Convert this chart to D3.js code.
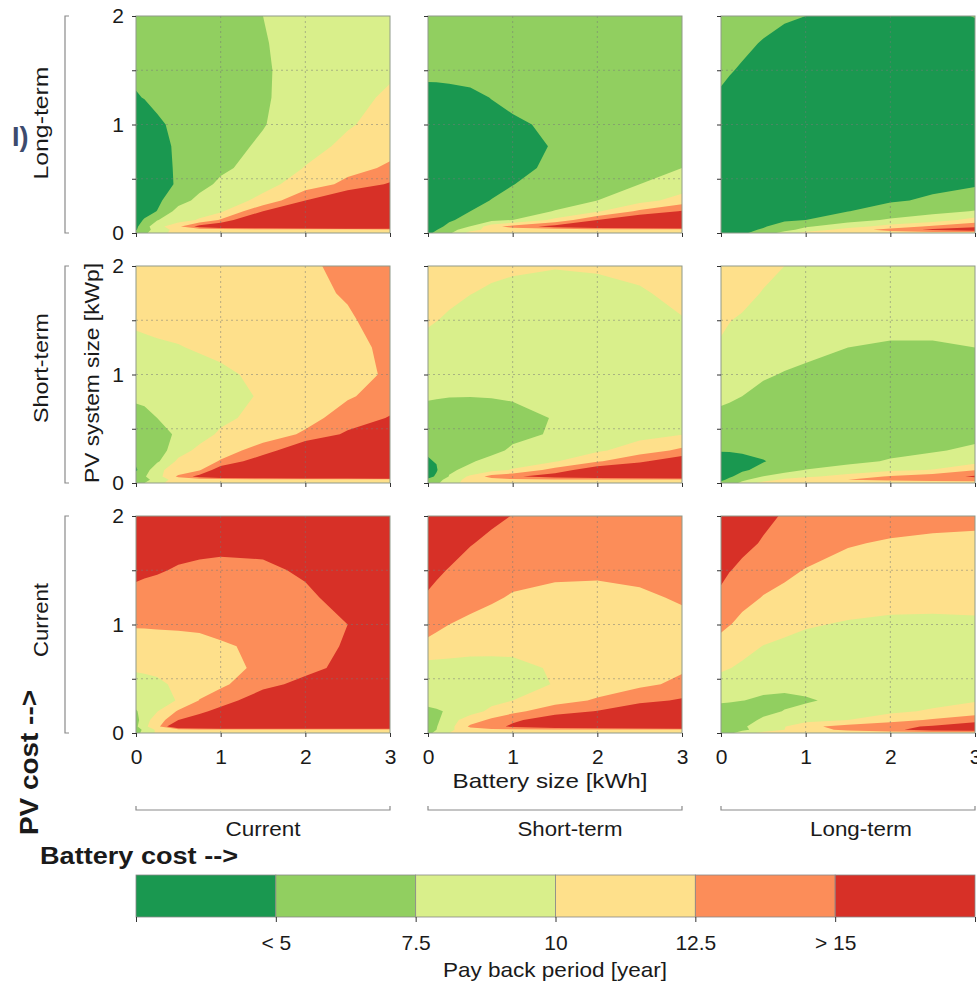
<!DOCTYPE html>
<html>
<head>
<meta charset="utf-8">
<script src="https://cdn.jsdelivr.net/npm/d3@7"></script>
<style>
  body { margin: 0; background: #fff; }
  text { font-family: "Liberation Sans", Arial, Helvetica, sans-serif; fill: #1a1a1a; }
</style>
</head>
<body>
<svg id="chart" width="977" height="983"></svg>
<script>
// grid of the pay back model: battery size [kWh] along x, PV size [kWp] along y
const batterySize = [0, 0.1, 0.25, 0.5, 0.75, 1, 1.5, 2, 2.5, 3];
const pvSize = [0, 0.03, 0.06, 0.12, 0.2, 0.3, 0.45, 0.6, 0.8, 1.0, 1.25, 1.5, 1.75, 2.0];

const costLevels = ["Current", "Short-term", "Long-term"];
const paybackBreaks = [5, 7.5, 10, 12.5, 15];
const bandColors = ["#1a9850", "#91cf60", "#d9ef8b", "#fee08b", "#fc8d59", "#d73027"];
const legendTicks = [2.5, 5, 7.5, 10, 12.5, 15, 17.5];
const legendTickLabels = ["", "< 5", "7.5", "10", "12.5", "> 15", ""];

// pay back period [year], one row per PV size (bottom to top)
const pvLong_batCurrent = [
  [6, 7, 9, 11, 11, 11, 11, 11, 11, 11],
  [4.8, 6.5, 8.5, 11, 11, 11, 11, 11, 11, 11],
  [4.5, 6.5, 9, 12, 16, 18, 20, 22, 24, 25],
  [4.2, 5.2, 7.4, 8.8, 10.3, 12.8, 20, 22, 23, 24],
  [3.8, 4.2, 5.05, 8.4, 8.8, 9.6, 15, 19, 21, 22],
  [3.5, 3.8, 4.5, 6.6, 8.1, 8.8, 10.6, 15, 18, 20],
  [3.3, 3.5, 4.0, 5.3, 6.8, 7.9, 9.3, 11.0, 13.2, 15.3],
  [3.2, 3.4, 3.9, 5.4, 6.2, 7.1, 8.4, 10.1, 11.6, 12.9],
  [3.2, 3.4, 4.0, 5.5, 6.2, 6.8, 7.8, 9.2, 10.5, 11.6],
  [3.4, 3.7, 4.6, 5.6, 6.1, 6.6, 7.4, 8.6, 9.8, 10.8],
  [4.8, 5.1, 5.6, 6.0, 6.3, 6.6, 7.3, 8.3, 9.4, 10.3],
  [5.6, 5.8, 6.0, 6.3, 6.5, 6.8, 7.3, 8.2, 9.0, 9.7],
  [6.0, 6.1, 6.3, 6.5, 6.7, 6.9, 7.4, 8.1, 8.8, 9.4],
  [6.3, 6.4, 6.5, 6.7, 6.9, 7.1, 7.5, 8.1, 8.7, 9.2]
];
const pvLong_batShort = [
  [4.5, 5.5, 7, 11, 11, 11, 11, 11, 11, 11],
  [4.2, 4.9, 6.5, 9, 11, 11, 11, 11, 11, 11],
  [3.8, 4.3, 5.6, 7.6, 11.5, 13.5, 16, 19, 20, 21],
  [3.5, 3.8, 4.7, 5.8, 6.8, 7.5, 10.6, 15, 18, 19],
  [3.3, 3.5, 4.1, 5.0, 5.7, 6.3, 7.6, 9.7, 13, 15.2],
  [3.2, 3.4, 3.8, 4.5, 5.05, 5.6, 6.6, 7.5, 9.1, 11.0],
  [3.1, 3.2, 3.5, 4.0, 4.5, 4.95, 5.9, 6.7, 7.5, 8.6],
  [3.1, 3.2, 3.4, 3.8, 4.2, 4.6, 5.3, 6.2, 6.9, 7.5],
  [3.1, 3.2, 3.4, 3.7, 4.1, 4.5, 5.1, 6.0, 6.6, 7.1],
  [3.3, 3.4, 3.6, 4.0, 4.4, 4.75, 5.3, 6.0, 6.5, 6.9],
  [4.2, 4.25, 4.4, 4.6, 5.05, 5.4, 5.8, 6.2, 6.6, 7.0],
  [5.6, 5.6, 5.6, 5.7, 5.9, 6.0, 6.3, 6.6, 6.9, 7.1],
  [5.9, 6.0, 6.0, 6.1, 6.2, 6.3, 6.5, 6.7, 6.9, 7.1],
  [6.2, 6.2, 6.3, 6.3, 6.4, 6.5, 6.7, 6.8, 7.0, 7.2]
];
const pvLong_batLong = [
  [4.5, 4.5, 4.6, 6.0, 8.5, 11, 11, 11, 11, 11],
  [4.3, 4.3, 4.5, 5.2, 6.5, 8.5, 11, 13.5, 15.5, 16.5],
  [4.1, 4.1, 4.3, 4.8, 6.0, 7.2, 9.0, 11.0, 13.0, 14.6],
  [4.0, 4.0, 4.1, 4.4, 4.7, 5.0, 6.6, 7.8, 8.6, 11.0],
  [3.9, 3.9, 4.0, 4.2, 4.4, 4.6, 4.95, 6.0, 6.9, 7.6],
  [3.9, 3.9, 3.9, 4.0, 4.1, 4.2, 4.4, 4.75, 5.3, 6.0],
  [3.9, 3.9, 3.9, 3.9, 3.9, 4.0, 4.1, 4.3, 4.5, 4.8],
  [3.9, 3.9, 3.8, 3.8, 3.8, 3.8, 3.9, 4.0, 4.1, 4.3],
  [4.0, 3.9, 3.8, 3.7, 3.7, 3.7, 3.8, 3.9, 4.0, 4.1],
  [4.3, 4.1, 3.9, 3.8, 3.7, 3.7, 3.7, 3.8, 3.9, 4.0],
  [4.8, 4.6, 4.3, 4.0, 3.8, 3.8, 3.7, 3.8, 3.9, 4.0],
  [5.3, 5.1, 4.85, 4.4, 4.1, 3.95, 3.8, 3.8, 3.9, 4.1],
  [5.8, 5.6, 5.3, 4.9, 4.5, 4.2, 4.0, 3.9, 4.1, 4.4],
  [6.2, 6.0, 5.8, 5.5, 5.2, 5.0, 4.5, 4.3, 4.6, 5.05]
];
const pvShort_batCurrent = [
  [6.5, 7.5, 9.5, 11, 11, 11, 11, 11, 11, 11],
  [5.5, 6.5, 8.8, 11, 11, 11, 11, 11, 11, 11],
  [5.8, 7.3, 9.0, 13, 16, 18, 20, 21, 22, 23],
  [4.8, 6.0, 9.6, 10.8, 12.2, 17, 18, 20, 21, 22],
  [5.3, 5.8, 7.1, 10.5, 11.3, 12.7, 17, 19, 20, 21],
  [5.3, 5.5, 6.2, 9.0, 10.6, 11.5, 13.5, 18, 19.5, 20],
  [5.6, 5.8, 6.3, 8.0, 9.0, 10.4, 11.4, 12.8, 15.5, 18],
  [6.5, 6.8, 7.5, 8.4, 8.9, 9.4, 10.9, 11.8, 13.4, 15.2],
  [8.0, 8.1, 8.3, 8.6, 9.0, 9.3, 10.2, 11.2, 12.3, 13.3],
  [8.3, 8.4, 8.6, 8.9, 9.3, 9.6, 10.5, 11.2, 12.0, 12.7],
  [9.5, 9.6, 9.75, 9.9, 10.2, 10.5, 11.0, 11.5, 12.1, 12.8],
  [10.3, 10.4, 10.5, 10.7, 10.9, 11.1, 11.5, 12.0, 12.3, 13.2],
  [10.8, 10.9, 11.0, 11.2, 11.4, 11.6, 12.0, 12.1, 12.65, 13.6],
  [11.1, 11.2, 11.3, 11.5, 11.7, 11.9, 12.2, 12.3, 12.8, 13.5]
];
const pvShort_batShort = [
  [6, 7, 9, 11, 11, 11, 11, 11, 11, 11],
  [5.5, 6.5, 8.5, 11, 11.5, 12, 12, 12, 12, 12],
  [4.3, 5.3, 7.6, 10.5, 13.5, 14.5, 16.5, 18, 19, 20],
  [4.2, 4.8, 7.2, 8.0, 9.2, 10.2, 13.5, 17, 18.5, 19.5],
  [4.85, 5.1, 5.8, 7.3, 8.1, 8.7, 9.8, 12.2, 14.5, 17],
  [5.2, 5.3, 5.6, 6.3, 7.0, 7.8, 8.6, 9.6, 11.3, 13.0],
  [5.3, 5.3, 5.5, 6.0, 6.5, 7.0, 7.7, 8.5, 9.2, 9.9],
  [5.6, 5.6, 5.8, 6.2, 6.5, 6.9, 7.6, 8.3, 8.9, 9.4],
  [8.0, 7.8, 7.6, 7.55, 7.6, 7.7, 8.0, 8.4, 8.8, 9.2],
  [8.6, 8.4, 8.2, 8.0, 8.0, 8.0, 8.2, 8.5, 8.9, 9.3],
  [9.2, 9.0, 8.8, 8.5, 8.4, 8.3, 8.4, 8.6, 9.0, 9.4],
  [10.3, 10.05, 9.7, 9.2, 9.0, 8.8, 8.8, 9.0, 9.4, 9.9],
  [11.0, 10.8, 10.5, 10.05, 9.7, 9.5, 9.3, 9.5, 9.8, 10.5],
  [11.5, 11.3, 11.1, 10.8, 10.5, 10.3, 10.1, 10.2, 10.5, 11.0]
];
const pvShort_batLong = [
  [5.5, 6.5, 8, 11, 11, 11, 11, 11, 11, 11],
  [4.5, 5.5, 7.0, 8.8, 10.5, 11.5, 12.5, 13, 13.5, 14],
  [4.2, 4.7, 5.8, 7.6, 8.8, 9.5, 11.0, 12.8, 14, 15.3],
  [4.0, 4.2, 4.7, 5.6, 6.6, 7.6, 8.5, 9.5, 10.1, 12.4],
  [3.8, 3.9, 4.3, 4.9, 5.6, 6.1, 6.9, 7.7, 8.3, 9.0],
  [5.15, 5.2, 5.3, 5.5, 5.8, 6.0, 6.4, 6.9, 7.3, 7.9],
  [5.6, 5.6, 5.6, 5.6, 5.7, 5.8, 6.0, 6.2, 6.5, 6.9],
  [6.9, 6.8, 6.6, 6.2, 6.0, 6.0, 6.0, 6.1, 6.3, 6.6],
  [8.0, 7.8, 7.5, 7.0, 6.7, 6.5, 6.3, 6.3, 6.4, 6.6],
  [8.5, 8.3, 8.1, 7.7, 7.4, 7.2, 6.9, 6.8, 6.8, 6.9],
  [9.8, 9.55, 9.0, 8.5, 8.2, 7.9, 7.5, 7.3, 7.3, 7.5],
  [10.3, 10.05, 9.8, 9.3, 9.0, 8.7, 8.3, 8.1, 8.1, 8.2],
  [11.0, 10.8, 10.5, 9.9, 9.5, 9.2, 8.8, 8.6, 8.6, 8.7],
  [11.5, 11.3, 11.0, 10.5, 10.0, 9.7, 9.3, 9.1, 9.1, 9.2]
];
const pvCurrent_batCurrent = [
  [7, 8, 10.5, 11, 11, 11, 11, 11, 11, 11],
  [6.5, 8, 10.5, 11.5, 12, 12, 12, 12, 12, 12],
  [7.0, 9.5, 11.5, 19, 20, 21, 21, 22, 22, 22],
  [6.5, 9.2, 11.0, 15, 16.5, 18, 20, 21, 21, 22],
  [7.3, 8.4, 9.9, 12.8, 14.3, 16, 18, 20, 21, 22],
  [8.5, 8.8, 9.4, 10.1, 12.6, 13.6, 17, 19, 21, 22],
  [9.2, 9.3, 9.6, 10.4, 11.2, 12.1, 14.0, 16, 19, 21],
  [10.3, 10.4, 10.5, 10.8, 11.2, 11.7, 13.0, 14.0, 16, 19],
  [10.6, 10.7, 10.8, 11.0, 11.4, 12.2, 13.0, 13.8, 15.3, 18],
  [12.9, 12.9, 13.0, 13.1, 13.2, 13.3, 13.6, 14.1, 15.0, 17],
  [14.2, 14.1, 14.0, 13.9, 13.9, 13.9, 14.1, 14.6, 15.8, 17.5],
  [15.6, 15.4, 15.2, 14.8, 14.6, 14.5, 14.6, 15.3, 16.5, 18],
  [16.5, 16.3, 16.1, 15.8, 15.6, 15.5, 15.6, 16.1, 17, 18.5],
  [17, 17, 17, 16.8, 16.6, 16.5, 16.6, 17, 17.8, 19]
];
const pvCurrent_batShort = [
  [7, 8, 10, 11, 11, 11, 11, 11, 11, 11],
  [6.5, 7.5, 9.5, 11.5, 12, 12, 12, 12, 12, 12],
  [6.5, 7.4, 9.0, 13.0, 14.0, 15.5, 18, 19, 20, 21],
  [6.3, 7.0, 9.0, 11.2, 13.0, 14.5, 16.5, 18.5, 19.5, 20],
  [6.8, 7.2, 7.8, 9.1, 10.5, 11.8, 14.0, 15.1, 17, 18],
  [8.5, 8.5, 8.6, 8.9, 9.4, 10.0, 11.5, 12.8, 14.3, 15.3],
  [8.6, 8.6, 8.6, 8.7, 8.9, 9.2, 10.1, 11.1, 12.0, 13.0],
  [9.0, 9.0, 9.0, 9.1, 9.3, 9.5, 10.2, 10.9, 11.5, 12.2],
  [11.8, 11.6, 11.3, 10.8, 10.6, 10.5, 10.7, 11.0, 11.5, 12.0],
  [13.5, 13.0, 12.5, 12.0, 11.6, 11.4, 11.2, 11.3, 11.6, 12.0],
  [14.8, 14.5, 14.0, 13.3, 12.8, 12.3, 12.0, 12.0, 12.2, 12.7],
  [15.6, 15.3, 14.9, 14.3, 13.8, 13.3, 12.9, 12.8, 13.0, 13.4],
  [16.5, 16.2, 15.8, 15.1, 14.6, 14.1, 13.6, 13.4, 13.5, 13.8],
  [17.5, 17.2, 16.8, 16.0, 15.4, 14.95, 14.3, 14.0, 14.0, 14.2]
];
const pvCurrent_batLong = [
  [6.5, 7, 8.5, 11, 11, 11, 11, 11, 11, 11],
  [6.0, 6.3, 7.0, 8.5, 10.0, 11.5, 13.0, 14.5, 16, 17],
  [5.8, 6.2, 7.2, 8.5, 9.9, 11.8, 13.5, 14.3, 15.3, 17],
  [5.5, 5.7, 6.5, 7.9, 8.5, 9.0, 10.0, 11.5, 12.8, 14.0],
  [5.4, 5.5, 5.9, 6.8, 7.6, 8.0, 8.7, 9.5, 10.3, 11.3],
  [8.2, 8.0, 7.55, 7.1, 7.0, 7.3, 8.0, 8.6, 9.2, 9.8],
  [9.2, 9.0, 8.7, 8.3, 8.1, 8.1, 8.3, 8.6, 8.9, 9.2],
  [10.3, 10.05, 9.7, 9.1, 8.8, 8.7, 8.6, 8.8, 9.0, 9.2],
  [11.2, 11.0, 10.6, 9.95, 9.6, 9.3, 9.1, 9.0, 9.1, 9.3],
  [13.3, 12.6, 11.9, 11.1, 10.6, 10.2, 9.8, 9.6, 9.6, 9.7],
  [14.6, 13.8, 13.2, 12.4, 11.9, 11.5, 11.0, 10.7, 10.6, 10.6],
  [15.5, 15.1, 14.5, 13.6, 13.0, 12.4, 11.8, 11.4, 11.2, 11.1],
  [16.3, 16.0, 15.6, 14.8, 14.1, 13.6, 12.65, 12.3, 12.1, 12.0],
  [17.0, 16.8, 16.3, 15.5, 14.8, 14.3, 13.8, 13.4, 13.2, 13.1]
];

// panel table: rows = PV cost (top: long-term), columns = battery cost
const panels = [
  { row: 0, col: 0, grid: pvLong_batCurrent },
  { row: 0, col: 1, grid: pvLong_batShort },
  { row: 0, col: 2, grid: pvLong_batLong },
  { row: 1, col: 0, grid: pvShort_batCurrent },
  { row: 1, col: 1, grid: pvShort_batShort },
  { row: 1, col: 2, grid: pvShort_batLong },
  { row: 2, col: 0, grid: pvCurrent_batCurrent },
  { row: 2, col: 1, grid: pvCurrent_batShort },
  { row: 2, col: 2, grid: pvCurrent_batLong }
];
const pvRowLabels = [costLevels[2], costLevels[1], costLevels[0]];

const svg = d3.select("#chart");
const colX = [136, 428, 721], rowY = [16, 266, 516];
const pw = 254, ph = 217;

const x = d3.scaleLinear().domain([0, 3]).range([0, pw]);
const y = d3.scaleLinear().domain([0, 2]).range([ph, 0]);
const color = d3.scaleThreshold().domain(paybackBreaks).range(bandColors);

// contour grid index -> data value (uneven grid spacing)
const nx = batterySize.length, ny = pvSize.length;
const gx = d3.scaleLinear().domain(d3.range(nx)).range(batterySize);
const gy = d3.scaleLinear().domain(d3.range(ny)).range(pvSize);
const toIndex = (v, n) => Math.max(0, Math.min(n - 1, v - 0.5));
const path = d3.geoPath(d3.geoTransform({
  point(px, py) {
    this.stream.point(x(gx(toIndex(px, nx))), y(gy(toIndex(py, ny))));
  }
}));
const contours = d3.contours().size([nx, ny]).thresholds(paybackBreaks);

const styleAxis = g => {
  g.select(".domain").remove();
  g.selectAll("line").attr("stroke", "#333");
  g.selectAll("text").attr("font-size", 21).attr("font-family", null).attr("fill", "#1a1a1a");
};

panels.forEach(p => {
  const g = svg.append("g").attr("transform", `translate(${colX[p.col]},${rowY[p.row]})`);

  g.append("rect").attr("width", pw).attr("height", ph).attr("fill", bandColors[0]);
  g.append("g").selectAll("path")
    .data(contours(p.grid.flat()))
    .join("path")
    .attr("fill", d => color(d.value))
    .attr("d", path);

  // dotted grid
  const grid = g.append("g").attr("stroke", "#777").attr("stroke-opacity", 0.5)
    .attr("stroke-dasharray", "2,3").attr("stroke-width", 1);
  grid.selectAll(".vx").data([1, 2]).join("line")
    .attr("x1", d => x(d)).attr("x2", d => x(d)).attr("y1", 0).attr("y2", ph);
  grid.selectAll(".hy").data([0.5, 1, 1.5]).join("line")
    .attr("y1", d => y(d)).attr("y2", d => y(d)).attr("x1", 0).attr("x2", pw);

  g.append("rect").attr("width", pw).attr("height", ph)
    .attr("fill", "none").attr("stroke", "#8f9a8a").attr("stroke-width", 1);

  g.append("g")
    .call(d3.axisLeft(y).tickValues([0, 0.5, 1, 1.5, 2]).tickSize(4).tickPadding(8)
      .tickFormat(d => p.col === 0 && Number.isInteger(d) ? d : ""))
    .call(styleAxis);

  g.append("g").attr("transform", `translate(0,${ph})`)
    .call(d3.axisBottom(x).tickValues([0, 1, 2, 3]).tickSize(4).tickPadding(12)
      .tickFormat(d => p.row === 2 ? d : ""))
    .call(styleAxis);
});

// left brackets and PV-cost row labels
const rowLabelY = [123, 368, 620];
const rowLabelLen = [113, 110, 74];
rowY.forEach((top, i) => {
  svg.append("path")
    .attr("d", `M69,${top}H65V${top + ph}H69`)
    .attr("fill", "none").attr("stroke", "#8a8a8a").attr("stroke-width", 1.2);
  svg.append("text")
    .attr("transform", `translate(48,${rowLabelY[i]}) rotate(-90)`)
    .attr("text-anchor", "middle").attr("font-size", 21)
    .attr("textLength", rowLabelLen[i]).attr("lengthAdjust", "spacingAndGlyphs")
    .text(pvRowLabels[i]);
});

svg.append("text")
  .attr("transform", "translate(99,373) rotate(-90)")
  .attr("text-anchor", "middle").attr("font-size", 21)
  .attr("textLength", 220).attr("lengthAdjust", "spacingAndGlyphs")
  .text("PV system size [kWp]");

// bottom brackets and battery-cost column labels
const colLabelX = [263, 570, 861];
const colLabelLen = [75, 105, 102];
colX.forEach((left, i) => {
  svg.append("path")
    .attr("d", `M${left},806V810H${left + pw}V806`)
    .attr("fill", "none").attr("stroke", "#8a8a8a").attr("stroke-width", 1.2);
  svg.append("text")
    .attr("x", colLabelX[i]).attr("y", 836)
    .attr("text-anchor", "middle").attr("font-size", 21)
    .attr("textLength", colLabelLen[i]).attr("lengthAdjust", "spacingAndGlyphs")
    .text(costLevels[i]);
});

svg.append("text")
  .attr("x", 550).attr("y", 788).attr("text-anchor", "middle").attr("font-size", 21)
  .attr("textLength", 195).attr("lengthAdjust", "spacingAndGlyphs")
  .text("Battery size [kWh]");

svg.append("text")
  .attr("transform", "translate(38,835) rotate(-90)")
  .attr("font-size", 26).attr("font-weight", "bold")
  .attr("textLength", 145).attr("lengthAdjust", "spacingAndGlyphs")
  .text("PV cost -->");

svg.append("text")
  .attr("x", 40).attr("y", 864)
  .attr("font-size", 23).attr("font-weight", "bold")
  .attr("textLength", 198).attr("lengthAdjust", "spacingAndGlyphs")
  .text("Battery cost -->");

// cropped panel tag at the left edge
svg.append("text")
  .attr("x", 12).attr("y", 146)
  .attr("font-size", 27).attr("font-weight", "bold")
  .style("fill", "#3d4b6e")
  .text("I)");

// colour bar
const legendX = d3.scaleLinear().domain([2.5, 17.5]).range([136, 975]);
const bar = svg.append("g");
bar.selectAll("rect")
  .data(bandColors)
  .join("rect")
  .attr("x", (d, i) => legendX(legendTicks[i]))
  .attr("width", (d, i) => legendX(legendTicks[i + 1]) - legendX(legendTicks[i]))
  .attr("y", 875).attr("height", 42)
  .attr("fill", d => d)
  .attr("stroke", "#888").attr("stroke-width", 0.8);

svg.append("g").attr("transform", "translate(0,917)")
  .call(d3.axisBottom(legendX).tickValues(legendTicks).tickSize(5).tickPadding(13)
    .tickFormat((d, i) => legendTickLabels[i]))
  .call(styleAxis);

svg.append("text")
  .attr("x", 555).attr("y", 977).attr("text-anchor", "middle").attr("font-size", 21)
  .attr("textLength", 224).attr("lengthAdjust", "spacingAndGlyphs")
  .text("Pay back period [year]");
</script>
</body>
</html>
